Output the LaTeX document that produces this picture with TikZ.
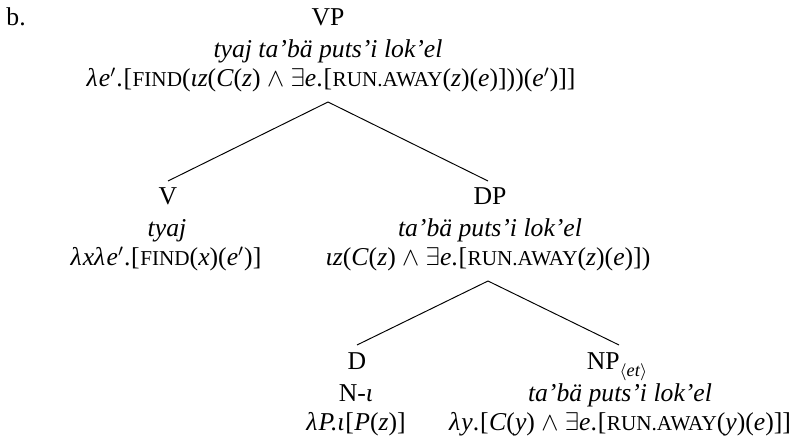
\documentclass[tikz,border=0pt]{standalone}
\usepackage{fontspec}
\setmainfont{Liberation Serif}
\newcommand\vr[1]{\textit{#1}}
\newcommand\sca[1]{{\fontsize{9.9pt}{10pt}\selectfont #1}}
\newcommand\andop{\hspace{0.25em}$\wedge$\hspace{0.25em}}
\newcommand\ex{$\exists$}
\newcommand\pr{$^{\prime}$}
\newcommand\lb{\hspace{0.03em}[\hspace{0.02em}}
\begin{document}
\begin{tikzpicture}[x=0.4673pt,y=-0.4673pt,
  lbl/.style={anchor=base, inner sep=0pt, font=\fontsize{12pt}{14pt}\selectfont},
  branch/.style={line width=0.45pt}]
\useasboundingbox (0,0) rectangle (803,445);
% example label
\node[lbl, anchor=base west] (ex) at (6,26) {b.};
% VP
\node[lbl] (vp) at (328,26) {VP};
\node[lbl] (vpw) at (328,58) {\textit{tyaj ta’bä puts’i lok’el}};
\node[lbl] (vps) at (331,87) {\vr{λ\hspace{0.05em}e}\pr.\lb\sca{FIND}(\vr{ιz}(\vr{C}(\vr{z})\andop\ex\vr{e}.\lb\sca{RUN.AWAY}(\vr{z})(\vr{e})]))(\vr{e}\pr)]]};
% V
\node[lbl] (v) at (168,205) {V};
\node[lbl] (vw) at (167,237) {\textit{tyaj}};
\node[lbl] (vs) at (166,266) {\vr{λ\hspace{0.04em}xλ\hspace{0.05em}e}\pr.\lb\sca{FIND}(\vr{x})(\vr{e}\pr)]};
% DP
\node[lbl] (dp) at (490,205) {DP};
\node[lbl] (dpw) at (490,237) {\textit{ta’bä puts’i lok’el}};
\node[lbl] (dps) at (488,266) {\vr{ιz}(\vr{C}(\vr{z})\andop\ex\vr{e}.\lb\sca{RUN.AWAY}(\vr{z})(\vr{e})])};
% D
\node[lbl] (d) at (357,369) {D};
\node[lbl] (dw) at (356,401) {N-\vr{ι}};
\node[lbl] (ds) at (356,430) {\vr{λ\hspace{0.05em}P.ι}\lb\vr{P}(\vr{z})]};
% NP
\node[lbl] (np) at (617,369) {NP\raisebox{-3.6pt}{\fontsize{8.5pt}{9pt}\selectfont$\langle$\vr{et}$\rangle$}};
\node[lbl] (npw) at (620,401) {\textit{ta’bä puts’i lok’el}};
\node[lbl] (nps) at (620,430) {\vr{λ\hspace{0.05em}y}.\lb\vr{C}(\vr{y})\andop\ex\vr{e}.\lb\sca{RUN.AWAY}(\vr{y})(\vr{e})]]};
% branches
\coordinate (vpt) at (328,102);
\coordinate (vb) at (168,181);
\coordinate (dpb) at (488,181);
\coordinate (dpt) at (488,281);
\coordinate (db) at (357,345);
\coordinate (npb) at (619,345);
\draw[branch] (vpt) -- (vb);
\draw[branch] (vpt) -- (dpb);
\draw[branch] (dpt) -- (db);
\draw[branch] (dpt) -- (npb);
\end{tikzpicture}
\end{document}
